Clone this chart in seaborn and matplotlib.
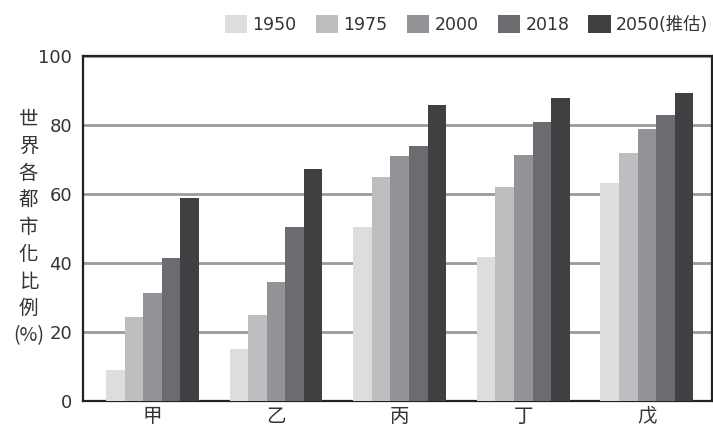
#grouped bar chart of urbanisation share by region
import seaborn as sns
import matplotlib.pyplot as plt
import pandas as pd

regions = ['甲', '乙', '丙', '丁', '戊']
years = ['1950', '1975', '2000', '2018', '2050(推估)']
v1950 = [9, 15, 50.4, 41.7, 63.3]
v1975 = [24.2, 24.8, 65, 62, 72]
v2000 = [31.2, 34.5, 71, 71.3, 79]
v2018 = [41.5, 50.3, 74, 80.8, 82.8]
v2050 = [59, 67.3, 85.8, 87.8, 89.3]
colors = ['#dcdddf', '#bdbec0', '#929396', '#6b6c70', '#404042']

df = pd.DataFrame({'region': regions * 5,
                   'year': [y for y in years for _ in regions],
                   'value': v1950 + v1975 + v2000 + v2018 + v2050})

sns.set_style('white')
plt.rcParams['font.family'] = ['Noto Sans CJK TC', 'DejaVu Sans']

fig = plt.figure(figsize=(7.13, 4.32), dpi=100)
ax = fig.add_axes([0.117, 0.072, 0.882, 0.798])
sns.barplot(data=df, x='region', y='value', hue='year', palette=colors,
            width=0.75, saturation=1, edgecolor='none', ax=ax, zorder=3)

ax.set_ylim(0, 100)
ax.set_xlim(-0.56, 4.53)
ax.set_yticks([0, 20, 40, 60, 80, 100])
ax.yaxis.grid(True, color='#9a9a9c', linewidth=2, zorder=0)
ax.set_axisbelow(True)
for s in ax.spines.values():
    s.set_color('#222222')
    s.set_linewidth(1.6)
ax.tick_params(length=0, pad=8)
ax.tick_params(axis='y', labelsize=13, labelcolor='#333333')
for lab in ax.get_yticklabels():
    lab.set_family('DejaVu Sans')
ax.tick_params(axis='x', labelsize=14, labelcolor='#333333', pad=4)
ax.set_xlabel('')
ax.set_ylabel('')

fig.text(0.040, 0.473, '世\n界\n各\n都\n市\n化\n比\n例\n(%)', ha='center', va='center',
         fontsize=14, linespacing=1.38, color='#333333')

leg = ax.legend(loc='lower right', bbox_to_anchor=(1.005, 1.045), ncol=5, frameon=False,
                prop={'family': ['DejaVu Sans', 'Noto Sans CJK TC'], 'size': 12.5},
                handlelength=1.3, handleheight=1.2, handletextpad=0.3,
                columnspacing=1.1, borderaxespad=0)
for t in leg.get_texts():
    t.set_color('#333333')

plt.savefig('out.png', dpi=100)
